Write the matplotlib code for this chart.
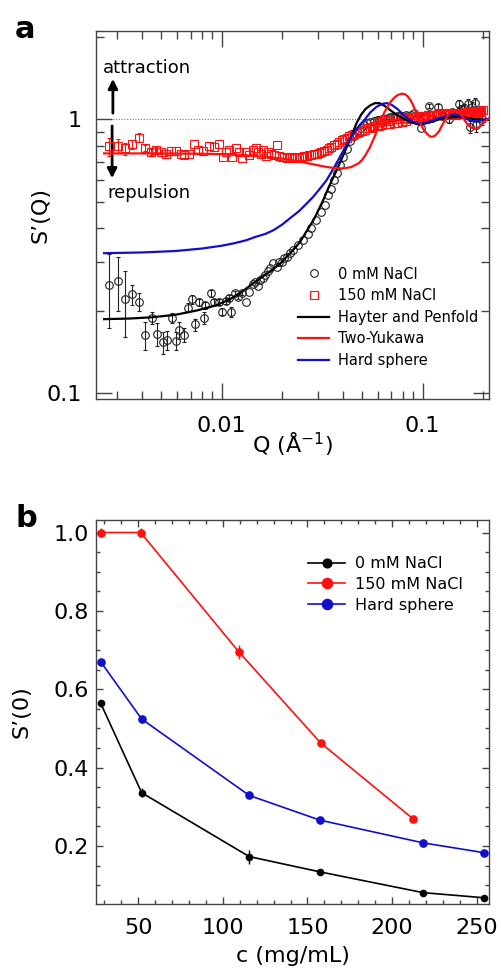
import matplotlib
matplotlib.use('Agg')
import matplotlib.pyplot as plt
from matplotlib.ticker import LogLocator, NullFormatter, MultipleLocator, FixedLocator, FixedFormatter

plt.rcParams['font.family'] = ['DejaVu Sans']

# ---- panel a: S'(Q) data ----
q0 = [0.00274, 0.00304, 0.00331, 0.00360, 0.00389, 0.00417, 0.00450, 0.00477, 0.00508, 0.00534,
      0.00566, 0.00593, 0.00616, 0.00652, 0.00678, 0.00712, 0.00736, 0.00774, 0.00819, 0.00830,
      0.00885, 0.00920, 0.00970, 0.01000, 0.01050, 0.01090, 0.01110, 0.01160, 0.01200, 0.01260,
      0.01320, 0.01370, 0.01430, 0.01470, 0.01520, 0.01550, 0.01600, 0.01640, 0.01700, 0.01740,
      0.01810, 0.01880, 0.01930, 0.01990, 0.02050, 0.02110, 0.02200, 0.02270, 0.02400, 0.02550,
      0.02700, 0.02800, 0.02960, 0.03140, 0.03260, 0.03390, 0.03520, 0.03630, 0.03740, 0.03880,
      0.04040, 0.04200, 0.04370, 0.04550, 0.04730, 0.04920, 0.05100, 0.05300, 0.05500, 0.05700,
      0.05900, 0.06100, 0.06300, 0.06500, 0.06700, 0.06900, 0.07100, 0.07300, 0.07500, 0.07750,
      0.08000, 0.08250, 0.08500, 0.08800, 0.09100, 0.09400, 0.09700, 0.09800, 0.10000, 0.10400,
      0.10800, 0.11200, 0.11600, 0.12000, 0.12500, 0.13000, 0.13500, 0.14000, 0.14500, 0.15100,
      0.15600, 0.16000, 0.16500, 0.16900, 0.17200, 0.17600, 0.18300, 0.18500, 0.19000, 0.19800]
s0 = [0.248, 0.257, 0.220, 0.229, 0.215, 0.163, 0.188, 0.164, 0.153, 0.156,
      0.188, 0.155, 0.170, 0.163, 0.205, 0.220, 0.178, 0.214, 0.188, 0.209,
      0.231, 0.215, 0.215, 0.198, 0.217, 0.222, 0.198, 0.231, 0.224, 0.232,
      0.215, 0.234, 0.251, 0.255, 0.245, 0.258, 0.262, 0.269, 0.280, 0.285,
      0.298, 0.289, 0.300, 0.302, 0.310, 0.314, 0.325, 0.333, 0.347, 0.362,
      0.382, 0.399, 0.428, 0.459, 0.486, 0.528, 0.558, 0.599, 0.634, 0.679,
      0.728, 0.780, 0.830, 0.870, 0.905, 0.930, 0.950, 0.965, 0.975, 0.985,
      0.990, 0.995, 1.000, 1.005, 1.010, 1.015, 1.020, 1.020, 1.025, 1.030,
      1.030, 1.035, 1.030, 1.040, 1.050, 1.030, 0.990, 0.925, 1.010, 1.020,
      1.120, 1.010, 1.040, 1.110, 1.030, 1.050, 1.000, 1.060, 1.040, 1.140,
      1.090, 1.100, 1.050, 1.140, 0.937, 1.110, 1.150, 0.951, 1.060, 1.000]
err0_low = [0.075, 0.058, 0.060, 0.019, 0.016, 0.019, 0.010, 0.016, 0.014, 0.012,
            0.008, 0.012, 0.012, 0.010, 0.008, 0.008, 0.009, 0.006, 0.010, 0.006,
            0.006, 0.005, 0.005, 0.006, 0.005, 0.005, 0.008, 0.004, 0.004, 0.004]
err0_high = [0.020, 0.020, 0.020, 0.025, 0.025, 0.030, 0.030, 0.030, 0.035, 0.040,
             0.040, 0.040, 0.045, 0.045, 0.045, 0.050, 0.050, 0.050, 0.050, 0.050]

q150 = [0.00274, 0.00304, 0.00331, 0.00360, 0.00389, 0.00417, 0.00445, 0.00472, 0.00500, 0.00530,
        0.00559, 0.00593, 0.00627, 0.00650, 0.00689, 0.00730, 0.00760, 0.00804, 0.00870, 0.00920,
        0.00970, 0.01010, 0.01050, 0.01090, 0.01130, 0.01180, 0.01220, 0.01270, 0.01320, 0.01370,
        0.01430, 0.01480, 0.01520, 0.01570, 0.01610, 0.01660, 0.01710, 0.01760, 0.01820, 0.01880,
        0.01930, 0.01990, 0.02050, 0.02110, 0.02170, 0.02230, 0.02300, 0.02360, 0.02430, 0.02500,
        0.02580, 0.02650, 0.02730, 0.02800, 0.02880, 0.02970, 0.03050, 0.03140, 0.03230, 0.03330,
        0.03420, 0.03520, 0.03630, 0.03740, 0.03850, 0.03960, 0.04080, 0.04200, 0.04320, 0.04450,
        0.04580, 0.04710, 0.04850, 0.05000, 0.05150, 0.05300, 0.05450, 0.05590, 0.05750, 0.05900,
        0.06050, 0.06140, 0.06300, 0.06450, 0.06600, 0.06750, 0.06900, 0.07050, 0.07200, 0.07350,
        0.07500, 0.07730, 0.07900, 0.08100, 0.08300, 0.08500, 0.08660, 0.08900, 0.09100, 0.09300,
        0.09500, 0.09700, 0.09900, 0.10100, 0.10400, 0.10600, 0.10900, 0.11100, 0.11400, 0.11700,
        0.12000, 0.12200, 0.12500, 0.12800, 0.13100, 0.13400, 0.13700, 0.14000, 0.14300, 0.14600,
        0.14900, 0.15300, 0.15600, 0.15900, 0.16200, 0.16500, 0.16900, 0.17200, 0.17500, 0.17900,
        0.18200, 0.18600, 0.18900, 0.19300, 0.19600, 0.20000]
s150 = [0.797, 0.800, 0.782, 0.811, 0.857, 0.787, 0.760, 0.775, 0.760, 0.745,
        0.763, 0.763, 0.745, 0.739, 0.749, 0.815, 0.770, 0.766, 0.797, 0.793,
        0.811, 0.729, 0.760, 0.770, 0.725, 0.782, 0.760, 0.719, 0.760, 0.739,
        0.770, 0.782, 0.760, 0.745, 0.770, 0.735, 0.760, 0.745, 0.739, 0.804,
        0.735, 0.729, 0.725, 0.719, 0.729, 0.719, 0.722, 0.725, 0.722, 0.729,
        0.733, 0.735, 0.740, 0.743, 0.746, 0.749, 0.755, 0.760, 0.768, 0.775,
        0.783, 0.792, 0.803, 0.815, 0.826, 0.838, 0.848, 0.857, 0.866, 0.874,
        0.883, 0.891, 0.899, 0.906, 0.916, 0.925, 0.932, 0.937, 0.944, 0.951,
        0.948, 0.975, 0.956, 0.990, 0.962, 0.985, 0.964, 0.998, 0.970, 1.000,
        0.972, 1.005, 0.978, 1.010, 0.985, 1.012, 1.000, 1.015, 1.005, 1.020,
        1.010, 1.030, 1.015, 1.030, 1.020, 1.035, 1.025, 1.032, 1.028, 1.040,
        1.045, 1.050, 1.035, 1.045, 1.050, 1.040, 1.050, 1.048, 1.055, 1.040,
        1.052, 1.045, 1.058, 1.050, 1.060, 1.048, 1.062, 1.055, 1.065, 1.050,
        1.068, 1.055, 1.068, 1.060, 1.075, 1.078]
err150_low = [0.060, 0.050, 0.040, 0.030, 0.030, 0.020, 0.020, 0.015, 0.015, 0.010]
err150_high = [0.015, 0.015, 0.015, 0.020, 0.020, 0.020, 0.020, 0.025, 0.025, 0.025,
               0.025, 0.030, 0.030, 0.030, 0.030, 0.030]

# model curves
q_hp = [0.0026, 0.0035, 0.0045, 0.0059, 0.0075, 0.0094, 0.0110, 0.0123, 0.0140, 0.0160,
        0.0180, 0.0195, 0.0220, 0.0245, 0.0265, 0.0290, 0.0320, 0.0345, 0.0374, 0.0400,
        0.0419, 0.0445, 0.0470, 0.0495, 0.0520, 0.0550, 0.0580, 0.0610, 0.0645, 0.0690,
        0.0740, 0.0800, 0.0875, 0.0950, 0.1000, 0.1080, 0.1200, 0.1350, 0.1500, 0.1650,
        0.1800, 0.2000, 0.2140]
s_hp = [0.186, 0.187, 0.189, 0.193, 0.200, 0.209, 0.220, 0.231, 0.248, 0.266,
        0.283, 0.296, 0.325, 0.355, 0.390, 0.435, 0.506, 0.575, 0.652, 0.730,
        0.790, 0.880, 0.970, 1.040, 1.090, 1.125, 1.145, 1.145, 1.120, 1.080,
        1.040, 1.005, 0.975, 0.958, 0.960, 0.972, 0.998, 1.015, 1.020, 1.012,
        1.000, 0.995, 0.995]

q_hs = [0.0026, 0.0040, 0.0059, 0.0080, 0.0100, 0.0115, 0.0132, 0.0148, 0.0165, 0.0181,
        0.0200, 0.0220, 0.0243, 0.0265, 0.0285, 0.0305, 0.0333, 0.0360, 0.0388, 0.0420,
        0.0450, 0.0485, 0.0517, 0.0550, 0.0590, 0.0630, 0.0665, 0.0700, 0.0750, 0.0800,
        0.0850, 0.0910, 0.0970, 0.1040, 0.1120, 0.1250, 0.1370, 0.1500, 0.1620, 0.1750,
        0.1880, 0.2000, 0.2140]
s_hs = [0.324, 0.326, 0.330, 0.337, 0.345, 0.352, 0.361, 0.372, 0.381, 0.393,
        0.412, 0.436, 0.462, 0.492, 0.520, 0.552, 0.599, 0.660, 0.728, 0.810,
        0.880, 0.950, 1.000, 1.060, 1.110, 1.138, 1.145, 1.130, 1.090, 1.040,
        1.000, 0.975, 0.964, 0.970, 0.990, 1.020, 1.040, 1.035, 1.010, 0.985,
        0.982, 0.995, 1.005]

q_ty = [0.0026, 0.0050, 0.0080, 0.0100, 0.0130, 0.0160, 0.0200, 0.0240, 0.0280, 0.0330,
        0.0370, 0.0400, 0.0440, 0.0480, 0.0500, 0.0520, 0.0547, 0.0580, 0.0600, 0.0625,
        0.0645, 0.0670, 0.0695, 0.0720, 0.0750, 0.0787, 0.0815, 0.0840, 0.0870, 0.0900,
        0.0925, 0.0950, 0.0975, 0.1000, 0.1030, 0.1060, 0.1085, 0.1110, 0.1140, 0.1170,
        0.1210, 0.1250, 0.1290, 0.1330, 0.1370, 0.1420, 0.1470, 0.1520, 0.1570, 0.1620,
        0.1670, 0.1720, 0.1790, 0.1860, 0.1960, 0.2060, 0.2140]
s_ty = [0.750, 0.750, 0.748, 0.745, 0.738, 0.730, 0.718, 0.703, 0.686, 0.670,
        0.662, 0.661, 0.668, 0.690, 0.710, 0.740, 0.790, 0.870, 0.930, 1.000,
        1.060, 1.110, 1.160, 1.195, 1.225, 1.240, 1.235, 1.215, 1.175, 1.120,
        1.065, 1.010, 0.965, 0.930, 0.900, 0.880, 0.867, 0.862, 0.866, 0.880,
        0.905, 0.950, 0.990, 1.030, 1.060, 1.078, 1.075, 1.060, 1.030, 0.990,
        0.960, 0.940, 0.925, 0.925, 0.950, 0.990, 1.005]

# ---- panel b: S'(0) vs concentration ----
c_0 = [27.8, 52.0, 115.6, 157.4, 218.4, 254.3]
s0_0 = [0.564, 0.336, 0.173, 0.134, 0.081, 0.068]
e0_0 = [0.008, 0.012, 0.018, 0.006, 0.005, 0.005]
c_150 = [27.8, 51.4, 109.3, 157.8, 212.5]
s0_150 = [1.0, 1.0, 0.696, 0.463, 0.269]
e0_150 = [0.012, 0.012, 0.018, 0.008, 0.006]
c_hs = [27.8, 52.0, 115.6, 157.4, 218.4, 254.3]
s0_hs = [0.670, 0.524, 0.329, 0.266, 0.208, 0.183]

RED = '#ff1010'
BLUE = '#1010cc'
SPINE = '#444444'

fig = plt.figure(figsize=(5.01, 9.73), dpi=100)
ax1 = fig.add_axes([0.1916, 0.5899, 0.7844, 0.3782])
ax2 = fig.add_axes([0.1916, 0.0709, 0.7844, 0.3947])

# panel a
ax1.axhline(1.0, color='#777777', ls=(0, (1, 1.5)), lw=0.8, zorder=1)
ax1.errorbar(q0[:30], s0[:30], yerr=err0_low, fmt='none', ecolor='#222222', elinewidth=0.8,
             capsize=1.5, capthick=0.8, zorder=2)
ax1.errorbar(q0[-20:], s0[-20:], yerr=err0_high, fmt='none', ecolor='#222222', elinewidth=0.8,
             capsize=1.5, capthick=0.8, zorder=2)
ax1.plot(q0, s0, ls='none', marker='o', ms=5.5, mfc='none', mec='#222222', mew=0.8,
         label='0 mM NaCl', zorder=3)
ax1.errorbar(q150[:10], s150[:10], yerr=err150_low, fmt='none', ecolor=RED, elinewidth=0.8,
             capsize=1.5, capthick=0.8, zorder=3)
ax1.errorbar(q150[-16:], s150[-16:], yerr=err150_high, fmt='none', ecolor=RED, elinewidth=0.8,
             capsize=1.5, capthick=0.8, zorder=3)
ax1.plot(q150, s150, ls='none', marker='s', ms=5.5, mfc='none', mec=RED, mew=0.8,
         label='150 mM NaCl', zorder=4)
ax1.plot(q_hp, s_hp, color='black', lw=1.6, label='Hayter and Penfold', zorder=5)
ax1.plot(q_ty, s_ty, color=RED, lw=1.6, label='Two-Yukawa', zorder=6)
ax1.plot(q_hs, s_hs, color=BLUE, lw=1.6, label='Hard sphere', zorder=5)

ax1.set_xscale('log')
ax1.set_yscale('log')
ax1.set_xlim(0.00237, 0.214)
ax1.set_ylim(0.095, 2.1)
ax1.xaxis.set_major_locator(FixedLocator([0.01, 0.1]))
ax1.xaxis.set_major_formatter(FixedFormatter(['0.01', '0.1']))
ax1.xaxis.set_minor_locator(LogLocator(base=10, subs=[2, 3, 4, 5, 6, 7, 8, 9]))
ax1.xaxis.set_minor_formatter(NullFormatter())
ax1.yaxis.set_major_locator(FixedLocator([0.1, 1.0]))
ax1.yaxis.set_major_formatter(FixedFormatter(['0.1', '1']))
ax1.yaxis.set_minor_locator(LogLocator(base=10, subs=[2, 3, 4, 5, 6, 7, 8, 9]))
ax1.yaxis.set_minor_formatter(NullFormatter())
ax1.tick_params(which='both', direction='in', top=True, right=True, color=SPINE, width=1.0)
ax1.tick_params(which='major', length=11.5, labelsize=16)
ax1.tick_params(which='minor', length=5.8)
ax1.tick_params(axis='y', which='major', pad=10)
ax1.tick_params(axis='x', which='major', pad=12)
ax1.set_xlabel('Q (Å$^{-1}$)', fontsize=16)
ax1.set_ylabel('S’(Q)', fontsize=16)
ax1.xaxis.set_label_coords(0.5, -0.085)
ax1.yaxis.set_label_coords(-0.117, 0.5)

ax1.text(0.018, 0.899, 'attraction', transform=ax1.transAxes, fontsize=13, va='center', ha='left')
ax1.text(0.028, 0.560, 'repulsion', transform=ax1.transAxes, fontsize=13, va='center', ha='left')
ax1.annotate('', xy=(0.043, 0.870), xytext=(0.043, 0.777), xycoords='axes fraction',
             arrowprops=dict(arrowstyle='-|>', lw=2.0, color='black', mutation_scale=14,
                             shrinkA=0, shrinkB=0))
ax1.annotate('', xy=(0.041, 0.600), xytext=(0.041, 0.742), xycoords='axes fraction',
             arrowprops=dict(arrowstyle='-|>', lw=2.0, color='black', mutation_scale=14,
                             shrinkA=0, shrinkB=0))

ax1.legend(loc='upper left', bbox_to_anchor=(0.515, 0.36), frameon=False, fontsize=10.5,
           handlelength=2.1, handletextpad=0.6, labelspacing=0.45, borderpad=0, borderaxespad=0)

# panel b
h0 = ax2.errorbar(c_0, s0_0, yerr=e0_0, color='black', marker='o', ms=4.5, lw=1.2, elinewidth=1.0,
                  capsize=0, label='0 mM NaCl', zorder=4)
h150 = ax2.errorbar(c_150, s0_150, yerr=e0_150, color=RED, marker='o', ms=5.2, lw=1.2,
                    elinewidth=1.0, capsize=0, label='150 mM NaCl', zorder=3)
hhs, = ax2.plot(c_hs, s0_hs, color=BLUE, marker='o', ms=5.2, lw=1.2, label='Hard sphere', zorder=3)
ax2.set_xlim(25, 257.3)
ax2.set_ylim(0.052, 1.032)
ax2.xaxis.set_major_locator(MultipleLocator(50))
ax2.xaxis.set_minor_locator(MultipleLocator(10))
ax2.yaxis.set_major_locator(FixedLocator([0.0, 0.2, 0.4, 0.6, 0.8, 1.0]))
ax2.yaxis.set_major_formatter(FixedFormatter(['0.0', '0.2', '0.4', '0.6', '0.8', '1.0']))
ax2.yaxis.set_minor_locator(MultipleLocator(0.05))
ax2.tick_params(which='both', direction='in', top=True, right=True, color=SPINE, width=1.0)
ax2.tick_params(which='major', length=5, labelsize=16)
ax2.tick_params(which='minor', length=3)
ax2.tick_params(axis='y', which='major', pad=5)
ax2.tick_params(axis='x', which='major', pad=10)
ax2.set_xlabel('c (mg/mL)', fontsize=16)
ax2.set_ylabel('S’(0)', fontsize=16)
ax2.xaxis.set_label_coords(0.5, -0.11)
ax2.yaxis.set_label_coords(-0.163, 0.5)
ax2.legend([h0[0], h150[0], hhs], ['0 mM NaCl', '150 mM NaCl', 'Hard sphere'],
           loc='upper left', bbox_to_anchor=(0.54, 0.905), frameon=False, fontsize=11.5,
           handlelength=2.3, handletextpad=0.6, labelspacing=0.35, borderpad=0, borderaxespad=0,
           markerscale=1.4)

for ax in (ax1, ax2):
    for sp in ax.spines.values():
        sp.set_color(SPINE)
        sp.set_linewidth(1.0)

fig.text(15 / 501, 1 - 38 / 973, 'a', fontsize=22, fontweight='bold', ha='left', va='baseline')
fig.text(15 / 501, 1 - 527 / 973, 'b', fontsize=22, fontweight='bold', ha='left', va='baseline')

fig.savefig('out.png', dpi=100)
